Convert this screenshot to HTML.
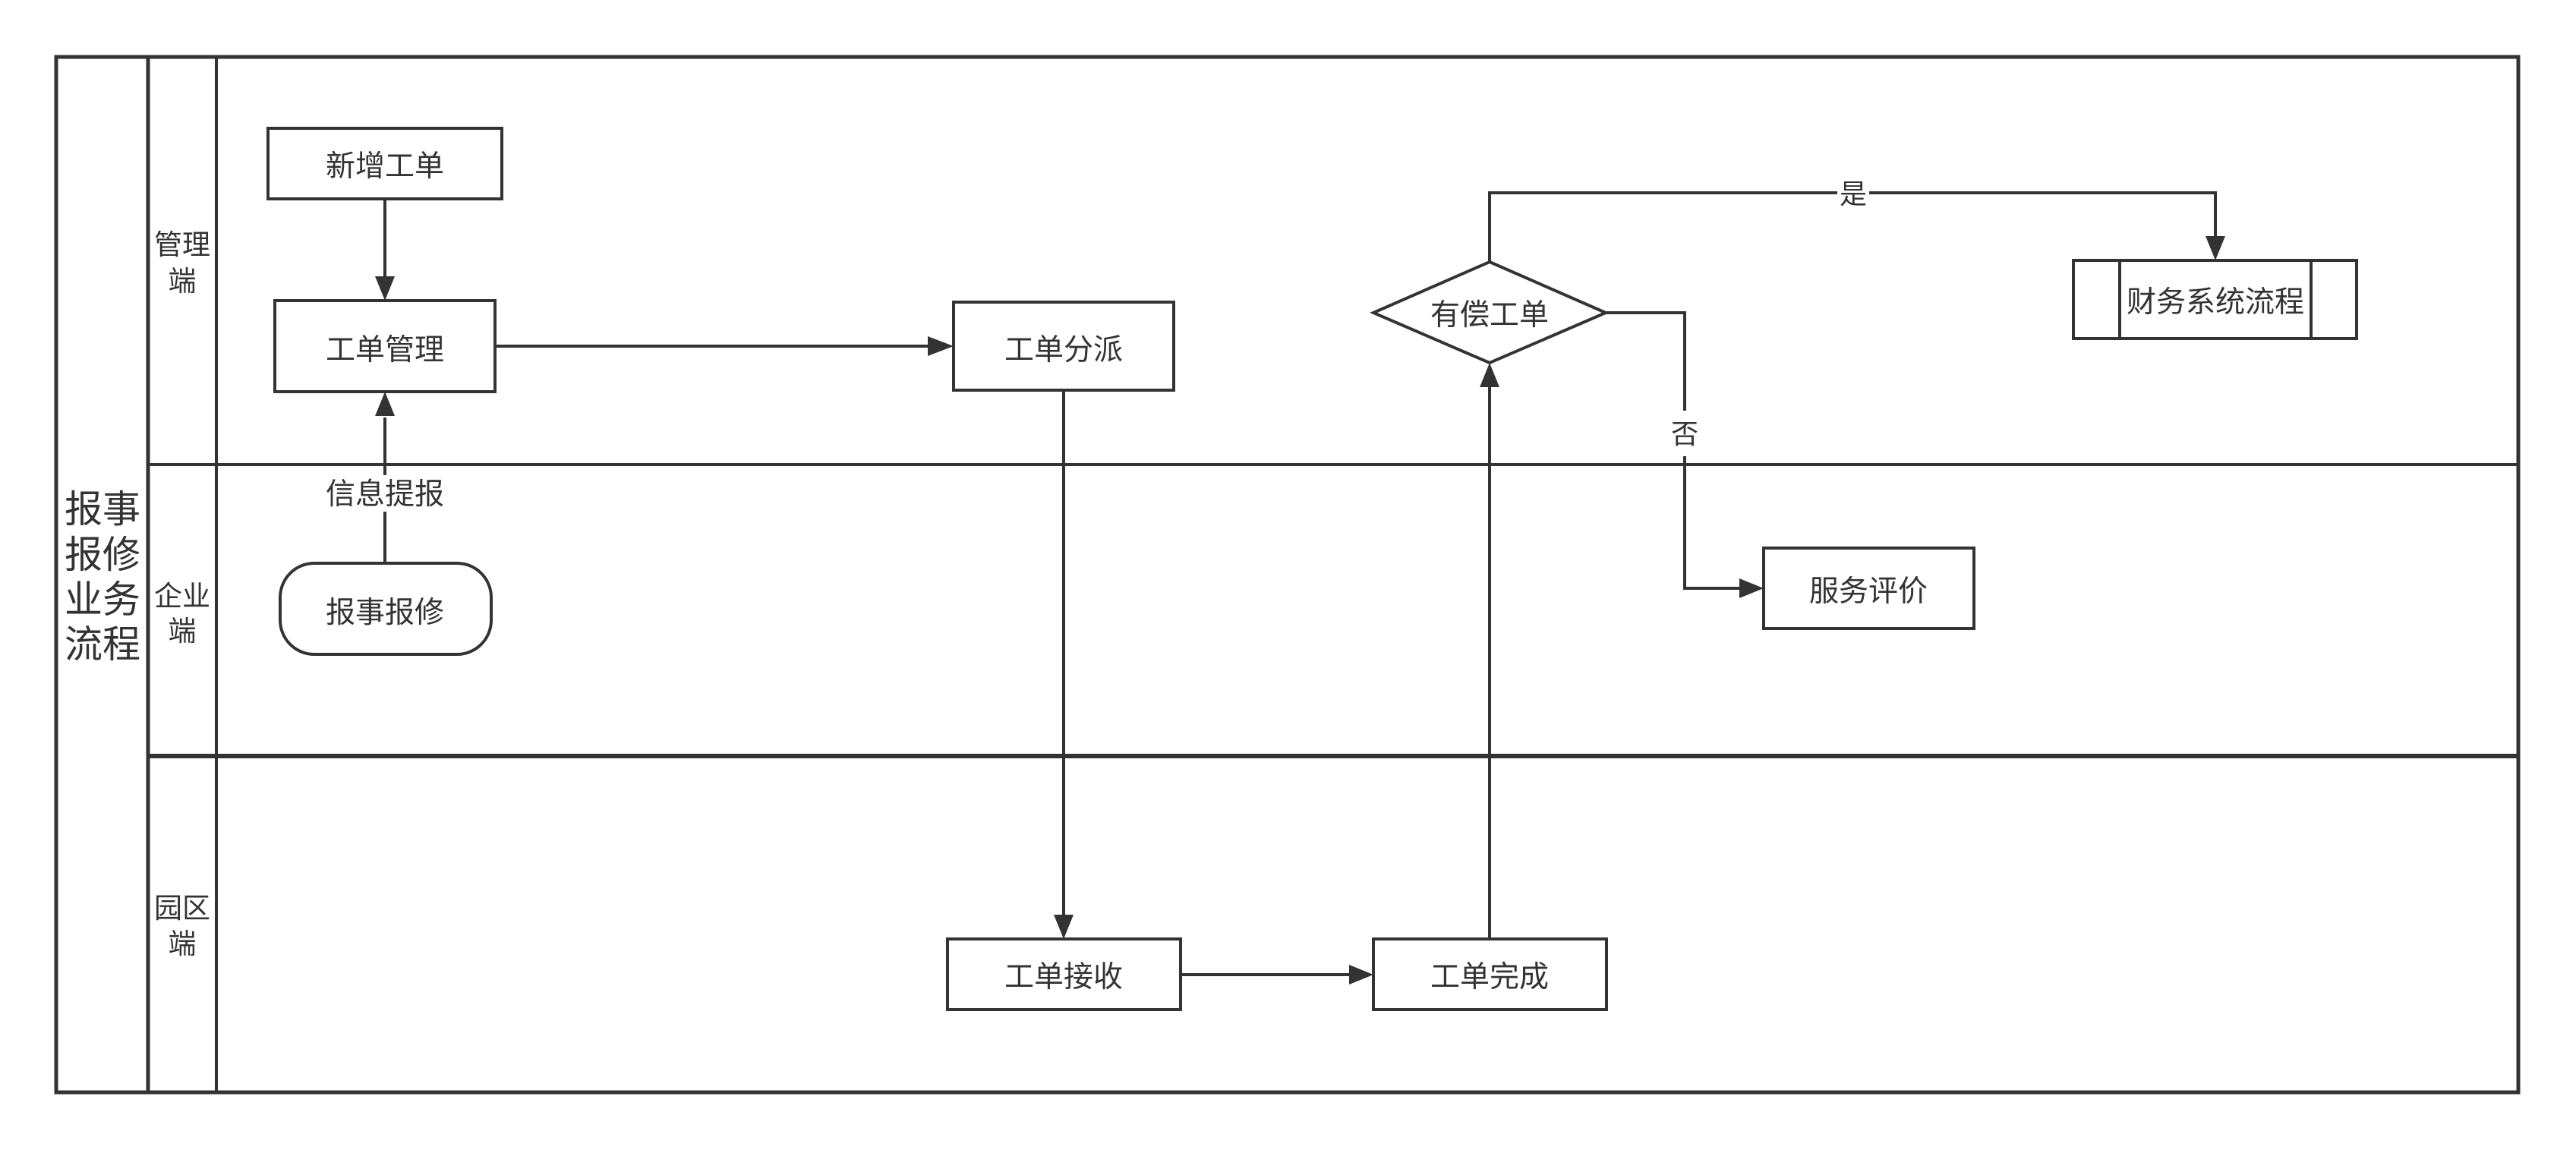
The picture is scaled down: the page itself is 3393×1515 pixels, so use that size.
<!DOCTYPE html>
<html><head><meta charset="utf-8"><style>
html,body{margin:0;padding:0;background:#fff;}
svg{display:block;}
text{font-family:"Liberation Sans","Noto Sans CJK SC",sans-serif;fill:#333;}
</style></head><body>
<svg width="3393" height="1515" viewBox="0 0 3393 1515" xmlns="http://www.w3.org/2000/svg">
<g stroke="#333" fill="none">
<rect x="74" y="75" width="3243" height="1364" stroke-width="5"/>
<line x1="195" y1="75" x2="195" y2="1439" stroke-width="5"/>
<line x1="285" y1="75" x2="285" y2="1439" stroke-width="4"/>
<line x1="195" y1="612" x2="3317" y2="612" stroke-width="4"/>
<line x1="195" y1="996" x2="3317" y2="996" stroke-width="6"/>
</g>
<text font-size="50" text-anchor="middle" x="135" y="688">报事</text>
<text font-size="50" text-anchor="middle" x="135" y="748">报修</text>
<text font-size="50" text-anchor="middle" x="135" y="807">业务</text>
<text font-size="50" text-anchor="middle" x="135" y="866">流程</text>
<g font-size="37" text-anchor="middle">
<text x="240" y="335">管理</text><text x="240" y="383">端</text>
<text x="240" y="798">企业</text><text x="240" y="844">端</text>
<text x="240" y="1209">园区</text><text x="240" y="1256">端</text>
</g>
<g stroke="#333" stroke-width="4" fill="#fff">
<rect x="353" y="169" width="308" height="93"/>
<rect x="362" y="396" width="290" height="120"/>
<rect x="1256" y="398" width="290" height="116"/>
<rect x="369" y="742" width="278" height="120" rx="45"/>
<rect x="1248" y="1237" width="307" height="93"/>
<rect x="1809" y="1237" width="307" height="93"/>
<rect x="2323" y="722" width="277" height="106"/>
<rect x="2731" y="343" width="373" height="103"/>
<line x1="2792" y1="343" x2="2792" y2="446"/>
<line x1="3044" y1="343" x2="3044" y2="446"/>
<polygon points="1962,345 2115,412 1962,478 1809,412"/>
</g>
<g stroke="#333" stroke-width="4" fill="none">
<line x1="507" y1="262" x2="507" y2="366"/>
<line x1="652" y1="456" x2="1222" y2="456"/>
<line x1="507" y1="742" x2="507" y2="674"/>
<line x1="507" y1="626" x2="507" y2="550"/>
<line x1="1401" y1="514" x2="1401" y2="1205"/>
<line x1="1555" y1="1284" x2="1777" y2="1284"/>
<line x1="1962" y1="1237" x2="1962" y2="510"/>
<polyline points="1962,345 1962,254 2420,254"/>
<polyline points="2462,254 2918,254 2918,312"/>
<polyline points="2115,412 2219,412 2219,541"/>
<polyline points="2219,601 2219,775 2291,775"/>
</g>
<g fill="#333">
<polygon points="494,364 520,364 507,396"/>
<polygon points="1222,443 1222,469 1256,456"/>
<polygon points="494,548 520,548 507,516"/>
<polygon points="1388,1205 1414,1205 1401,1237"/>
<polygon points="1777,1271 1777,1297 1809,1284"/>
<polygon points="1949,510 1975,510 1962,478"/>
<polygon points="2905,311 2931,311 2918,343"/>
<polygon points="2291,762 2291,788 2323,775"/>
</g>
<g font-size="39" text-anchor="middle">
<text x="507" y="232">新增工单</text>
<text x="507" y="474">工单管理</text>
<text x="1401" y="474">工单分派</text>
<text x="507" y="820">报事报修</text>
<text x="507" y="664">信息提报</text>
<text x="1401" y="1300">工单接收</text>
<text x="1962" y="1300">工单完成</text>
<text x="1962" y="428">有偿工单</text>
<text x="2461" y="792">服务评价</text>
<text x="2918" y="411">财务系统流程</text>
<text x="2441" y="268" font-size="36">是</text>
<text x="2219" y="584" font-size="36">否</text>
</g>
</svg>
</body></html>
